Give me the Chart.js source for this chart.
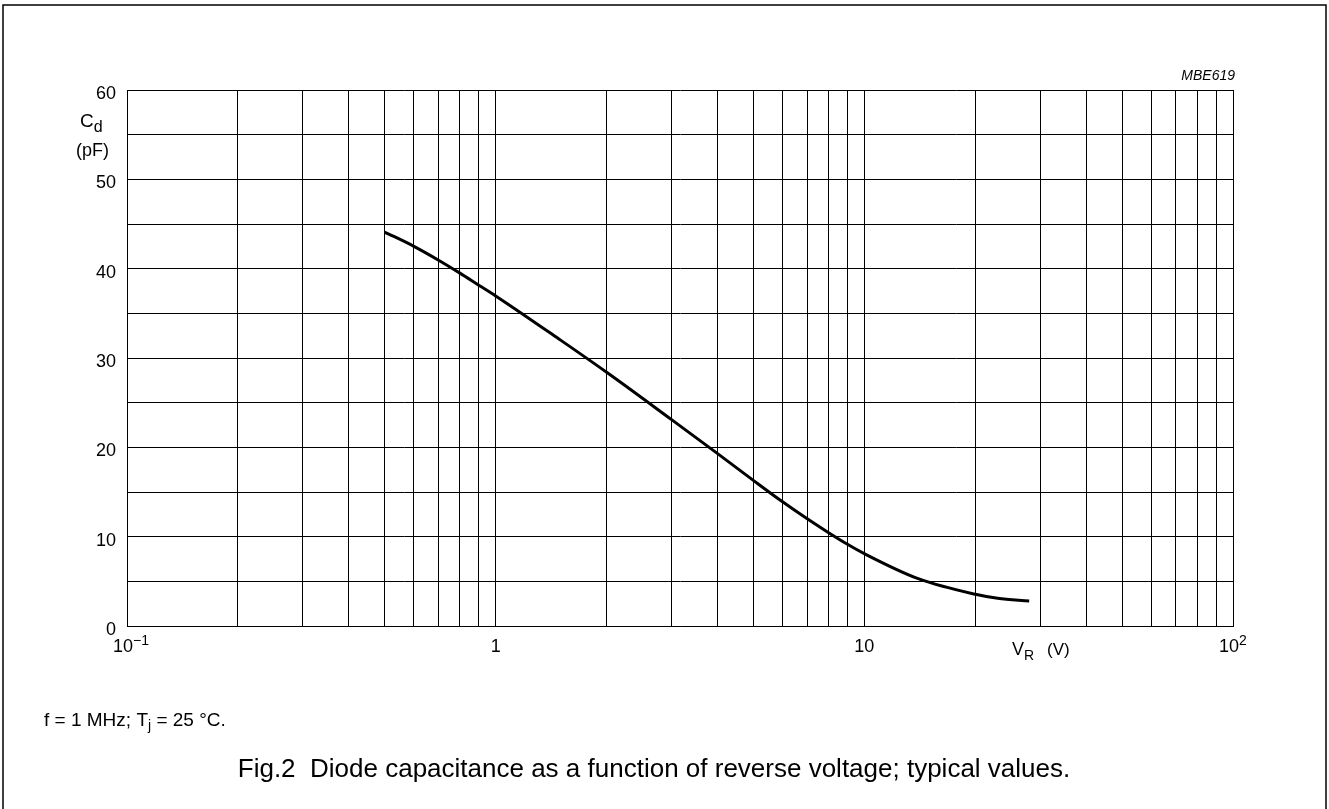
<!DOCTYPE html>
<html>
<head>
<meta charset="utf-8">
<script src="https://cdn.jsdelivr.net/npm/chart.js@4.4.0/dist/chart.umd.min.js"></script>
<style>
  html, body { margin: 0; padding: 0; background: #fff; }
  canvas { display: block; }
</style>
</head>
<body>
<canvas id="myChart" width="1329" height="809"></canvas>
<script>
// reverse voltage (V) against diode capacitance (pF)
const voltage = [0.5, 0.6, 0.7, 0.8, 0.9, 1, 1.5, 2, 3, 4, 5, 6, 7, 8, 9, 10, 14, 20, 23, 28];
const capacitance = [44.1, 42.5, 40.95, 39.5, 38.15, 36.95, 32.0, 28.4, 23.1, 19.3, 16.3, 13.9, 12.0, 10.45, 9.15, 8.1, 5.3, 3.55, 3.1, 2.8];

// log grid (every 1..9 x decade) and labelled decades
const xGrid = [0.1, 0.2, 0.3, 0.4, 0.5, 0.6, 0.7, 0.8, 0.9,
               1, 2, 3, 4, 5, 6, 7, 8, 9,
               10, 20, 30, 40, 50, 60, 70, 80, 90, 100];
const xLabels = [0.1, 1, 10, 100];
const xLabelBase = ['10', '1', '10', '10'];
const xLabelSup = ['\u22121', '', '', '2'];
const yLabels = [0, 10, 20, 30, 40, 50, 60];

const FONT = '"Liberation Sans", Arial, Helvetica, sans-serif';

// text with sub/superscript parts: [text, size, dy]
function drawRuns(ctx, x, y, runs) {
  ctx.textAlign = 'left';
  runs.forEach(([t, size, dy, style]) => {
    ctx.font = `${style || ''} ${size}px ${FONT}`;
    ctx.fillText(t, x, y + dy);
    x += ctx.measureText(t).width;
  });
  return x;
}

const extraText = {
  id: 'extraText',
  afterDraw(chart) {
    const ctx = chart.ctx;
    const xs = chart.scales.x;
    const ys = chart.scales.y;
    ctx.save();
    ctx.fillStyle = '#000';
    ctx.textBaseline = 'alphabetic';

    // y tick labels
    ctx.font = `18px ${FONT}`;
    ctx.textAlign = 'right';
    yLabels.forEach(v => ctx.fillText(String(v), xs.left - 11, ys.getPixelForValue(v) + 9));

    // x tick labels
    xLabels.forEach((v, i) => {
      const px = xs.getPixelForValue(v);
      const base = xLabelBase[i], sup = xLabelSup[i];
      ctx.font = `18px ${FONT}`;
      const wb = ctx.measureText(base).width;
      const x0 = sup ? px - wb / 2 - 4 : px - wb / 2;
      drawRuns(ctx, x0, 652, [[base, 18, 0], [sup, 14, -7]]);
    });

    // axis titles
    drawRuns(ctx, 80, 127, [['C', 19, 0], ['d', 16, 5]]);
    drawRuns(ctx, 76, 156, [['(pF)', 18, 0]]);
    drawRuns(ctx, 1012, 655, [['V', 18, 0], ['R', 14, 5]]);
    drawRuns(ctx, 1047, 655, [['(V)', 17, 0]]);

    // drawing code
    ctx.font = `italic 14px ${FONT}`;
    ctx.textAlign = 'right';
    ctx.fillText('MBE619', xs.right + 2, 80);

    // conditions and caption
    drawRuns(ctx, 44, 726, [['f = 1 MHz; T', 19, 0], ['j', 14, 4], [' = 25 \u00b0C.', 19, 0]]);
    ctx.font = `26px ${FONT}`;
    ctx.textAlign = 'center';
    ctx.fillText('Fig.2  Diode capacitance as a function of reverse voltage; typical values.', 654, 777);

    // figure frame
    ctx.strokeStyle = '#000';
    ctx.lineWidth = 1.5;
    ctx.strokeRect(3, 5, 1323, 900);
    ctx.restore();
  }
};

const gridOpts = { color: '#000', lineWidth: 1, drawTicks: false };

const chart = new Chart(document.getElementById('myChart'), {
  type: 'scatter',
  data: {
    datasets: [{
      data: voltage.map((v, i) => ({ x: v, y: capacitance[i] })),
      showLine: true,
      borderColor: '#000',
      borderWidth: 3,
      pointRadius: 0,
      cubicInterpolationMode: 'monotone',
      fill: false
    }]
  },
  options: {
    responsive: false,
    animation: false,
    devicePixelRatio: 1,
    layout: { padding: { left: 127, top: 90, right: 96, bottom: 183 } },
    plugins: { legend: { display: false }, tooltip: { enabled: false } },
    scales: {
      x: {
        type: 'logarithmic',
        min: 0.1,
        max: 100,
        afterBuildTicks: (s) => { s.ticks = xGrid.map(v => ({ value: v })); },
        ticks: { display: false },
        grid: gridOpts,
        border: { color: '#000', width: 1 }
      },
      y: {
        min: 0,
        max: 60,
        ticks: { stepSize: 5, display: false },
        grid: gridOpts,
        border: { color: '#000', width: 1 }
      }
    }
  },
  plugins: [extraText]
});
</script>
</body>
</html>
